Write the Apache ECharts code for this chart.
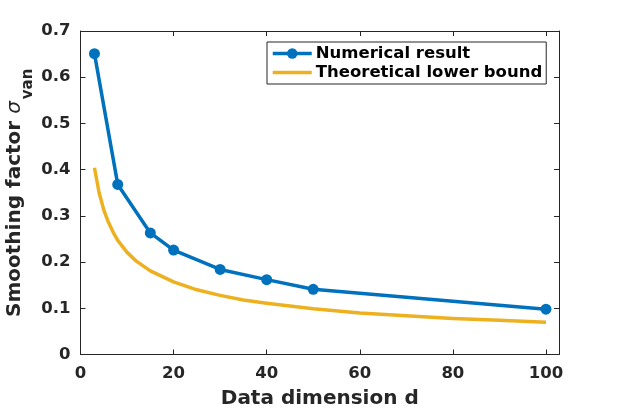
<!DOCTYPE html>
<html>
<head>
<meta charset="utf-8">
<script src="https://cdn.jsdelivr.net/npm/echarts@6/dist/echarts.min.js"></script>
<style>
html,body{margin:0;padding:0;background:#fff;}
#chart{width:619px;height:411px;}
</style>
</head>
<body>
<div id="chart"></div>
<script>
// Data
const dims = [3, 8, 15, 20, 30, 40, 50, 100];
const numerical = [0.651, 0.368, 0.263, 0.226, 0.184, 0.162, 0.141, 0.098];
const boundDims = [3, 4, 5, 6, 7, 8, 10, 12, 15, 20, 25, 30, 35, 40, 50, 60, 70, 80, 90, 100];
const boundValues = [0.404, 0.350, 0.313, 0.286, 0.265, 0.247, 0.221, 0.202, 0.181, 0.157, 0.140, 0.128, 0.118, 0.111, 0.099, 0.090, 0.084, 0.078, 0.074, 0.070];
const xTicks = [0, 20, 40, 60, 80, 100];
const yTicks = [0, 0.1, 0.2, 0.3, 0.4, 0.5, 0.6, 0.7];
const seriesNames = ['Numerical result', 'Theoretical lower bound'];

const FONT = 'DejaVu Sans';
const INK = '#262626';
const chart = echarts.init(document.getElementById('chart'), null, {renderer: 'canvas'});

const axisLineStyle = {show: true, onZero: false, lineStyle: {color: INK, width: 1}};
const tickStyle = {show: true, inside: true, length: 5, lineStyle: {color: INK, width: 1}};

chart.setOption({
  animation: false,
  backgroundColor: '#fff',
  grid: {left: 80.5, right: 60, top: 31, bottom: 56.5, show: false, containLabel: false, outerBoundsMode: 'none'},
  legend: {
    orient: 'vertical',
    left: 267,
    top: 42,
    padding: [3, 4, 3, 4],
    itemGap: 2,
    itemWidth: 39,
    itemHeight: 13,
    borderColor: INK,
    borderWidth: 1,
    backgroundColor: '#fff',
    lineStyle: {width: 3.5},
    textStyle: {fontFamily: FONT, fontWeight: 'bold', fontSize: 16.5, color: '#000', padding: [0, 0, 0, -1]},
    data: [
      {name: seriesNames[0]},
      {name: seriesNames[1], itemStyle: {opacity: 0}}
    ]
  },
  xAxis: [{
    type: 'value', min: 0, max: 102.8, interval: 20,
    position: 'bottom',
    name: 'Data dimension d', nameLocation: 'middle', nameGap: 34,
    nameTextStyle: {fontFamily: FONT, fontWeight: 'bold', fontSize: 20, color: INK},
    axisLine: axisLineStyle,
    axisTick: Object.assign({customValues: xTicks}, tickStyle),
    axisLabel: {customValues: xTicks, fontFamily: FONT, fontWeight: 'bold', fontSize: 16.5, color: INK, margin: 11},
    splitLine: {show: false}
  }, {
    type: 'value', min: 0, max: 102.8, interval: 20,
    position: 'top',
    axisLine: axisLineStyle,
    axisTick: Object.assign({customValues: xTicks}, tickStyle),
    axisLabel: {show: false},
    splitLine: {show: false}
  }],
  yAxis: [{
    type: 'value', min: 0, max: 0.7, interval: 0.1,
    position: 'left',
    name: '{a|Smoothing factor }{s|σ}{v|van}',
    nameLocation: 'middle', nameRotate: 90, nameGap: 45,
    nameMoveOverlap: false,
    nameTextStyle: {
      rich: {
        a: {fontFamily: FONT, fontWeight: 'bold', fontSize: 20, color: INK, lineHeight: 22, verticalAlign: 'top'},
        s: {fontFamily: FONT, fontStyle: 'italic', fontWeight: 'normal', fontSize: 20, color: INK, lineHeight: 22, verticalAlign: 'top'},
        v: {fontFamily: FONT, fontWeight: 'bold', fontSize: 15, color: INK, lineHeight: 31, verticalAlign: 'bottom', padding: [0, 0, 0, 2]}
      }
    },
    axisLine: axisLineStyle,
    axisTick: Object.assign({customValues: yTicks}, tickStyle),
    axisLabel: {customValues: yTicks, fontFamily: FONT, fontWeight: 'bold', fontSize: 16.5, color: INK, margin: 10,
      formatter: v => v === 0 ? '0' : v.toFixed(1)},
    splitLine: {show: false}
  }, {
    type: 'value', min: 0, max: 0.7, interval: 0.1,
    position: 'right',
    axisLine: axisLineStyle,
    axisTick: Object.assign({customValues: yTicks}, tickStyle),
    axisLabel: {show: false},
    splitLine: {show: false}
  }],
  series: [{
    name: seriesNames[0],
    type: 'line',
    xAxisIndex: 0, yAxisIndex: 0,
    data: dims.map((d, i) => [d, numerical[i]]),
    symbol: 'circle',
    symbolSize: 11,
    showSymbol: true,
    lineStyle: {color: '#0072BD', width: 3.5},
    itemStyle: {color: '#0072BD'},
    z: 3
  }, {
    name: seriesNames[1],
    type: 'line',
    xAxisIndex: 0, yAxisIndex: 0,
    data: boundDims.map((d, i) => [d, boundValues[i]]),
    symbol: 'none',
    showSymbol: false,
    smooth: false,
    lineStyle: {color: '#EDB120', width: 3.5, join: 'round'},
    itemStyle: {color: '#EDB120'},
    z: 2
  }]
});
</script>
</body>
</html>
